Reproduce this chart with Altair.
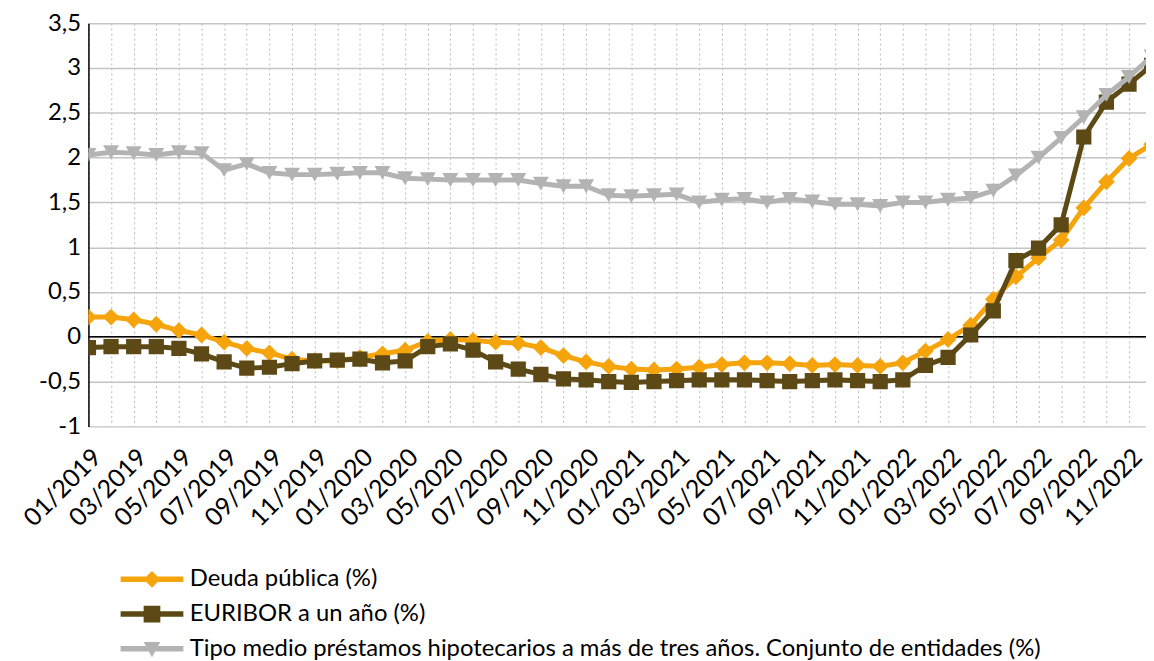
import altair as alt
import pandas as pd

MONTHS = [
    "01/2019", "02/2019", "03/2019", "04/2019", "05/2019", "06/2019",
    "07/2019", "08/2019", "09/2019", "10/2019", "11/2019", "12/2019",
    "01/2020", "02/2020", "03/2020", "04/2020", "05/2020", "06/2020",
    "07/2020", "08/2020", "09/2020", "10/2020", "11/2020", "12/2020",
    "01/2021", "02/2021", "03/2021", "04/2021", "05/2021", "06/2021",
    "07/2021", "08/2021", "09/2021", "10/2021", "11/2021", "12/2021",
    "01/2022", "02/2022", "03/2022", "04/2022", "05/2022", "06/2022",
    "07/2022", "08/2022", "09/2022", "10/2022", "11/2022", "12/2022",
]

SERIES = [
    "Deuda pública (%)",
    "EURIBOR a un año (%)",
    "Tipo medio préstamos hipotecarios a más de tres años. Conjunto de entidades (%)",
]

DEUDA = [0.22, 0.22, 0.19, 0.14, 0.07, 0.02, -0.06, -0.13, -0.18, -0.25, -0.27, -0.27,
         -0.23, -0.19, -0.15, -0.05, -0.03, -0.04, -0.06, -0.07, -0.12, -0.21, -0.28, -0.33,
         -0.36, -0.37, -0.36, -0.34, -0.31, -0.29, -0.29, -0.30, -0.32, -0.31, -0.32, -0.33,
         -0.29, -0.16, -0.03, 0.13, 0.42, 0.67, 0.88, 1.08, 1.44, 1.73, 1.99, 2.15]

EURIBOR = [-0.12, -0.11, -0.11, -0.11, -0.13, -0.19, -0.28, -0.35, -0.34, -0.30, -0.27, -0.26,
           -0.25, -0.29, -0.27, -0.11, -0.08, -0.15, -0.28, -0.36, -0.42, -0.47, -0.48, -0.50,
           -0.51, -0.50, -0.49, -0.48, -0.48, -0.48, -0.49, -0.50, -0.49, -0.48, -0.49, -0.50,
           -0.48, -0.32, -0.23, 0.02, 0.29, 0.85, 0.99, 1.25, 2.23, 2.62, 2.82, 3.03]

TIPO = [2.03, 2.06, 2.05, 2.03, 2.06, 2.05, 1.86, 1.93, 1.83, 1.81, 1.81, 1.82,
        1.83, 1.83, 1.77, 1.76, 1.75, 1.75, 1.75, 1.75, 1.71, 1.68, 1.68, 1.58,
        1.57, 1.58, 1.59, 1.50, 1.53, 1.54, 1.50, 1.54, 1.51, 1.48, 1.48, 1.46,
        1.50, 1.50, 1.53, 1.55, 1.63, 1.80, 2.00, 2.22, 2.45, 2.70, 2.90, 3.13]

Y_TICKS = [-1, -0.5, 0, 0.5, 1, 1.5, 2, 2.5, 3, 3.5]
ZERO = [0]

COLORS = ["#F5A40C", "#5C4915", "#B3B3B3"]
MARKERS = ["diamond", "square", "triangle-down"]
MARKER_SIZES = [285, 235, 260]

# legend symbols: line segment + marker (custom SVG paths)
LEGEND_PATHS = [
    "M-7.9,-0.7H7.9V0.7H-7.9Z M0,-2.1L2.1,0L0,2.1L-2.1,0Z",
    "M-7.9,-0.7H7.9V0.7H-7.9Z M-2.1,-2.1H2.1V2.1H-2.1Z",
    "M-7.9,-0.7H7.9V0.7H-7.9Z M-2.1,-1.7H2.1L0,2.1Z",
]

FONT = "Lato"
XAXIS_FS = 25
YAXIS_FS = 24
LEGEND_FS = 24

rows = []
for s, vals in zip(SERIES, [DEUDA, EURIBOR, TIPO]):
    for i, v in enumerate(vals):
        rows.append({"idx": i, "month": MONTHS[i], "series": s, "value": v})
df = pd.DataFrame(rows)

label_js = "[" + ",".join(f"'{m}'" for m in MONTHS) + "]"

x_enc = alt.X(
    "idx:Q",
    scale=alt.Scale(domain=[0, 46.75], nice=False, zero=False),
    axis=alt.Axis(
        values=list(range(47)),
        labelExpr=f"datum.value % 2 == 0 ? {label_js}[datum.value] : ''",
        labelAngle=-45,
        labelAlign="right",
        labelBaseline="top",
        labelPadding=18,
        labelOverlap=False,
        labelFlush=False,
        labelBound=False,
        labelFont=FONT,
        labelFontSize=XAXIS_FS,
        labelColor="#000000",
        ticks=False,
        domain=False,
        grid=True,
        gridDash=[2, 3],
        gridColor="#b8b8b8",
        gridWidth=1,
        title=None,
    ),
)

y_enc = alt.Y(
    "value:Q",
    scale=alt.Scale(domain=[-1, 3.5], nice=False, zero=False),
    axis=alt.Axis(
        values=Y_TICKS,
        labelExpr="replace(toString(datum.value), '.', ',')",
        labelFont=FONT,
        labelFontSize=YAXIS_FS,
        labelColor="#000000",
        labelPadding=8,
        labelFlush=False,
        ticks=False,
        domain=True,
        domainColor="#000000",
        domainWidth=1.5,
        grid=True,
        gridColor="#c4c4c4",
        gridWidth=1.5,
        title=None,
    ),
)

zero_rule = alt.Chart(pd.DataFrame({"v": ZERO})).mark_rule(
    color="#000000", strokeWidth=1.5
).encode(y=alt.Y("v:Q", scale=alt.Scale(domain=[-1, 3.5], nice=False, zero=False)))

layers = [zero_rule]
for s, c, m, sz in zip(SERIES, COLORS, MARKERS, MARKER_SIZES):
    base = alt.Chart(df).transform_filter(alt.datum.series == s)
    line = base.mark_line(color=c, strokeWidth=5, strokeJoin="round", strokeCap="round", clip=True).encode(
        x=x_enc, y=y_enc
    )
    pts = base.mark_point(shape=m, filled=True, color=c, size=sz, opacity=1, clip=True).encode(
        x=x_enc, y=y_enc
    )
    layers += [line, pts]

legend_kw = dict(
    title=None,
    orient="none",
    legendX=52,
    legendY=548,
    direction="vertical",
    labelFont=FONT,
    labelFontSize=LEGEND_FS,
    labelColor="#000000",
    labelLimit=1200,
    labelOffset=26,
    symbolSize=64,
    symbolStrokeWidth=0,
    rowPadding=11,
    padding=0,
)

legend_layer = alt.Chart(df).transform_filter("false").mark_point(
    filled=True, opacity=1, size=64
).encode(
    fill=alt.Fill("series:N", scale=alt.Scale(domain=SERIES, range=COLORS), legend=alt.Legend(**legend_kw)),
    shape=alt.Shape("series:N", scale=alt.Scale(domain=SERIES, range=LEGEND_PATHS), legend=alt.Legend(**legend_kw)),
)
layers.append(legend_layer)

chart = alt.layer(*layers).properties(
    width=1065,
    height=406,
    padding={"left": 81, "top": 13, "right": 0, "bottom": 242},
    autosize=alt.AutoSizeParams(type="none"),
    background="#ffffff",
).configure_view(stroke=None)

chart.save("out.html", embed_options={"renderer": "svg", "actions": False})
